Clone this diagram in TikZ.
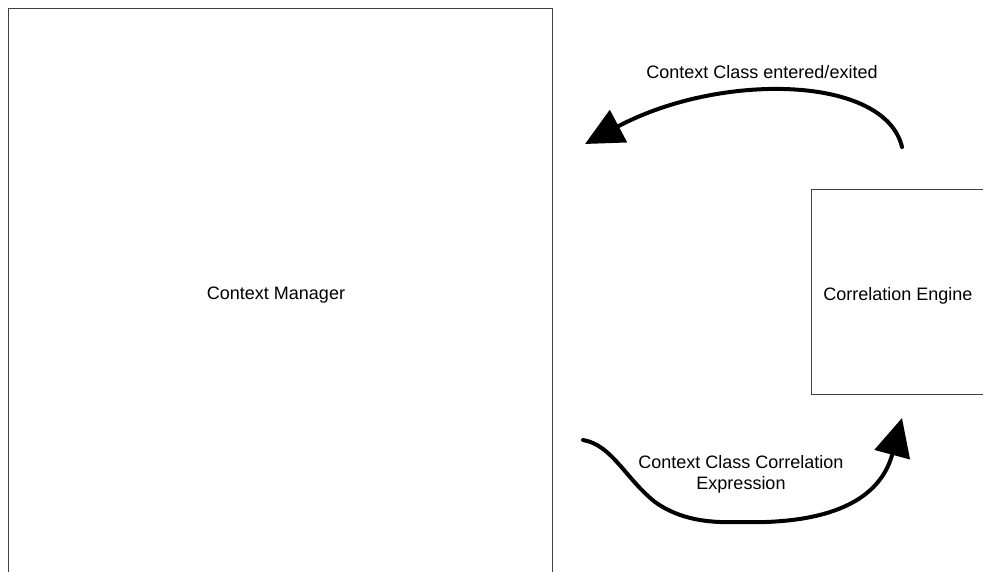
\documentclass[tikz,border=0pt]{standalone}
\usepackage{fontspec}
\setmainfont{Liberation Sans}
\usetikzlibrary{arrows.meta}
\begin{document}
\begin{tikzpicture}[x=1pt,y=-1pt,
  every node/.style={font=\fontsize{18}{21}\selectfont},
  block/.style={draw=black!75,line width=1pt,fill=none,inner sep=0pt},
  flow/.style={line width=4pt,line cap=round,
    -{Triangle[length=38pt,width=36pt]}}]
\useasboundingbox (0,0) rectangle (983,572);
% main components (both boxes run past the page edge)
\node[block,minimum width=544,minimum height=582] (cm) at (280,300) {};
\node (cmtext) at (276,295) {Context Manager};
\node[block,minimum width=180,minimum height=204] (ce) at (901,292) {};
\node (cetext) at (898,296) {Correlation Engine};
% free ends of the two curved connectors
\coordinate (topstart) at (902,147);
\coordinate (toptip) at (585,144);
\coordinate (botstart) at (583,440);
\coordinate (botmid) at (737,522);
\coordinate (bottip) at (902,418);
% notification back to the context manager
\draw[flow] (topstart) .. controls (885,75) and (720,72) .. (toptip);
\node (toplabel) at (762,72) {Context Class entered/exited};
% expression sent to the correlation engine
\draw[flow] (botstart) .. controls (612,445) and (625,478) .. (655,502)
  .. controls (680,520) and (710,523) .. (botmid)
  .. controls (830,525) and (880,500) .. (bottip);
\node[align=center] (botlabel) at (741,474) {Context Class Correlation\\Expression};
\end{tikzpicture}
\end{document}
